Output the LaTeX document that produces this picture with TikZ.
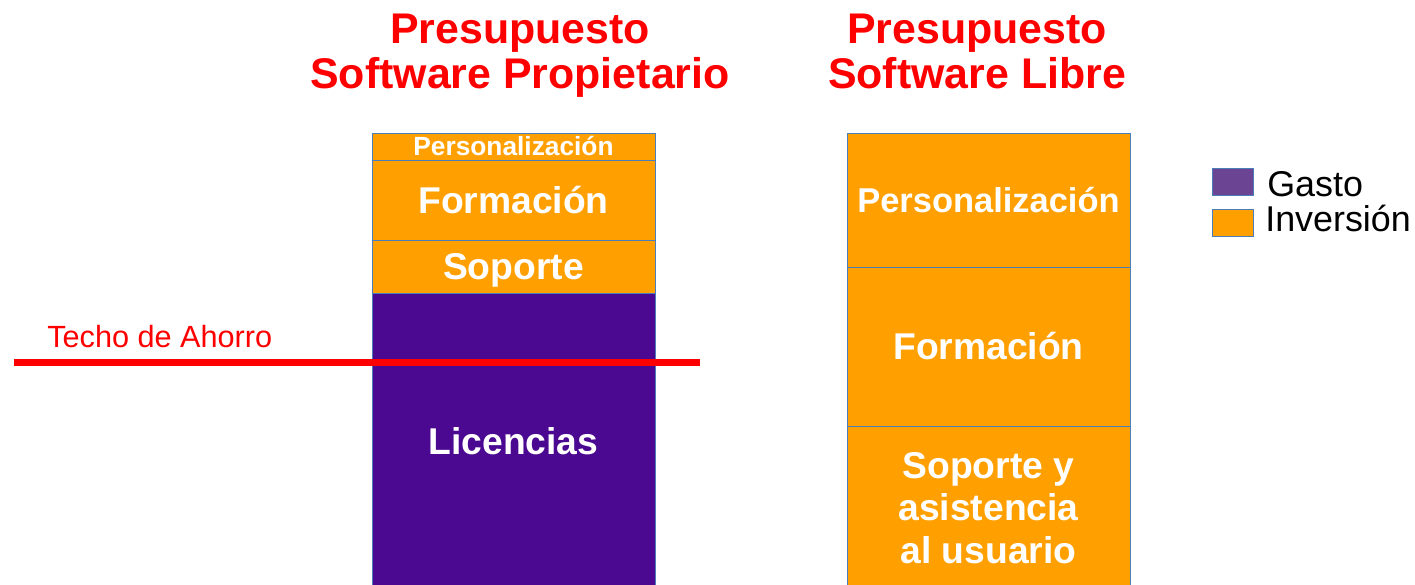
\documentclass[tikz,border=0pt]{standalone}
\usepackage{fontspec}
\setmainfont{Liberation Sans}
\usetikzlibrary{positioning}
\definecolor{barorange}{HTML}{FFA000}
\definecolor{barpurple}{HTML}{4B0891}
\definecolor{keypurple}{HTML}{6B4593}
\definecolor{barline}{HTML}{4A7EBB}
\definecolor{titlered}{HTML}{FF0000}

\begin{document}
\begin{tikzpicture}[
    x=0.025cm, y=-0.025cm,
    segment/.style={rectangle,draw=barline,line width=0.6pt,minimum width=7.075cm,outer sep=0pt,inner sep=2pt,text=white,align=center,font=\fontsize{26.5}{30}\selectfont\bfseries},
    oneline/.style={text height=#1,text depth=0pt},
    oneline/.default=19pt,
    inversion/.style={segment,fill=barorange},
    gasto/.style={segment,fill=barpurple},
    heading/.style={text=titlered,align=center,inner sep=0pt,text depth=0.23cm,font=\fontsize{30.5}{32}\selectfont\bfseries},
    key box/.style={rectangle,draw=barline,line width=0.6pt,minimum width=1.025cm,minimum height=0.675cm,inner sep=0pt},
    key text/.style={anchor=base west,inner sep=0pt,font=\fontsize{25.5}{28}\selectfont},
    techo/.style={draw=titlered,line width=5pt}
]
\useasboundingbox (0,0) rectangle (1415,585);

% Titles
\node[heading] (titleP) at (520,56) {Presupuesto\\Software Propietario};
\node[heading] (titleL) at (977,56) {Presupuesto\\Software Libre};

% Proprietary budget
\node[inversion, oneline=13.5pt, minimum height=0.675cm, font=\fontsize{18.7}{20}\selectfont\bfseries] (persP) at (513.5,146.5) {Personalización};
\node[inversion, oneline, minimum height=2cm, below=0pt of persP] (formP) {Formación};
\node[inversion, oneline, minimum height=1.325cm, below=0pt of formP] (sopP) {Soporte};
\node[gasto, oneline, minimum height=7.425cm, below=0pt of sopP] (licP) {Licencias};

% Free software budget
\node[inversion, oneline=17.6pt, minimum height=3.35cm, font=\fontsize{24.5}{28}\selectfont\bfseries] (persL) at (988.5,200) {Personalización};
\node[inversion, oneline, minimum height=3.975cm, below=0pt of persL] (formL) {Formación};
\node[inversion, minimum height=4.1cm, below=0pt of formL] (sopL) {Soporte y\\asistencia\\al usuario};

% Savings ceiling
\coordinate (techoL) at (14,362.5);
\coordinate (techoR) at (700,362.5);
\draw[techo] (techoL) -- (techoR);
\node[anchor=base west, inner sep=0pt, text=titlered, font=\fontsize{21.8}{24}\selectfont] (techoText) at (47,347) {Techo de Ahorro};

% Legend
\node[key box, fill=keypurple] (keyG) at (1232.5,181.5) {};
\node[key box, fill=barorange] (keyI) at (1232.5,223) {};
\node[key text] (keyGText) at (1267,196) {Gasto};
\node[key text] (keyIText) at (1265,231) {Inversión};

\end{tikzpicture}
\end{document}
